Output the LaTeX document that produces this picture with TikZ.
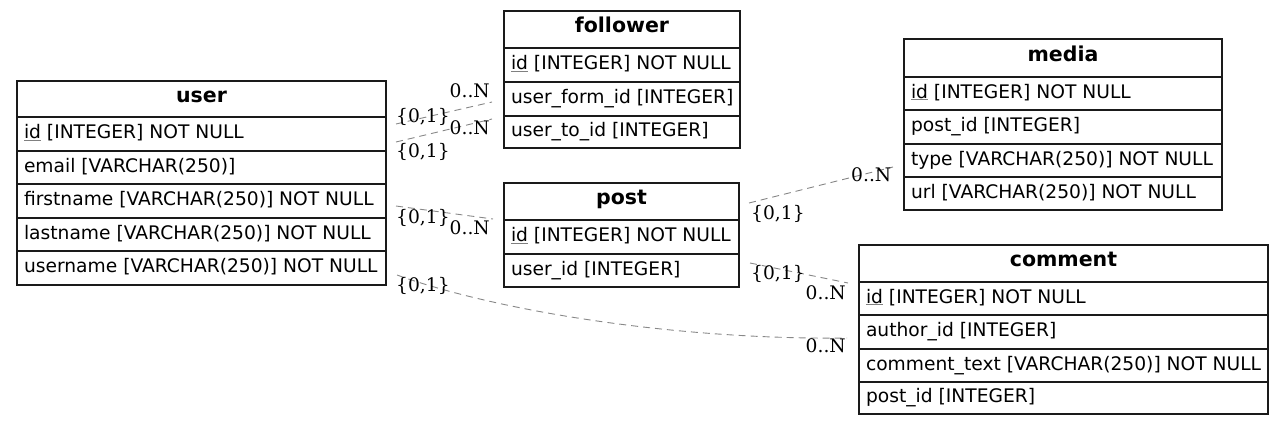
\documentclass[tikz,border=0pt]{standalone}
\usepackage{fontspec}
\setmainfont{DejaVu Sans}
\newfontfamily\lblfont{DejaVu Serif}
\usetikzlibrary{calc}
\newcommand\tfont{\fontsize{18.67pt}{22pt}\selectfont}
\newcommand\hfont{\fontsize{20.5pt}{24pt}\selectfont\bfseries}
\newcommand\rowstrut{\rule[-8pt]{0pt}{25pt}}
\newcommand\hdrstrut{\rule[-9.6pt]{0pt}{26pt}}
\newcommand\pkey[1]{{\color{gray}\underline{\color{black}#1}}}
\definecolor{edgegray}{HTML}{888888}
\definecolor{boxline}{HTML}{1A1A1A}
\tikzset{
  tbl/.style={draw=boxline, line width=1.3pt, inner xsep=7pt, inner ysep=0pt, outer sep=0pt, anchor=north west, font=\tfont},
  rowbox/.style={tbl, minimum height=33pt},
  hdrbox/.style={tbl, minimum height=37pt, font=\hfont},
  edge/.style={draw=edgegray, line width=0.9pt, dash pattern=on 7pt off 5pt},
  card/.style={font=\lblfont\tfont, inner sep=0pt, text=black}
}
\newcommand\rtxt[2]{\makebox[#1][l]{\rowstrut#2}}
\newcommand\htxt[2]{\makebox[#1][c]{\hdrstrut#2}}
\begin{document}
\begin{tikzpicture}[x=1pt,y=-1pt]
\useasboundingbox (0,0) rectangle (1284,426);
% user
\node[hdrbox, minimum height=36pt] (user-h) at (17,81) {\htxt{355pt}{user}};
\node[rowbox, minimum height=34pt] (user-id) at (17,117) {\rtxt{355pt}{\pkey{id} [INTEGER] NOT NULL}};
\node[rowbox] (user-email) at (17,151) {\rtxt{355pt}{email [VARCHAR(250)]}};
\node[rowbox, minimum height=34pt] (user-first) at (17,184) {\rtxt{355pt}{firstname [VARCHAR(250)] NOT NULL}};
\node[rowbox] (user-last) at (17,218) {\rtxt{355pt}{lastname [VARCHAR(250)] NOT NULL}};
\node[rowbox, minimum height=34pt] (user-uname) at (17,251) {\rtxt{355pt}{username [VARCHAR(250)] NOT NULL}};
% follower
\node[hdrbox] (fol-h) at (504,11) {\htxt{222pt}{follower}};
\node[rowbox, minimum height=34pt] (fol-id) at (504,48) {\rtxt{222pt}{\pkey{id} [INTEGER] NOT NULL}};
\node[rowbox, minimum height=34pt] (fol-from) at (504,82) {\rtxt{222pt}{user\_form\_id [INTEGER]}};
\node[rowbox, minimum height=32pt] (fol-to) at (504,116) {\rtxt{222pt}{user\_to\_id [INTEGER]}};
% post
\node[hdrbox] (post-h) at (504,183) {\htxt{221pt}{post}};
\node[rowbox, minimum height=34pt] (post-id) at (504,220) {\rtxt{221pt}{\pkey{id} [INTEGER] NOT NULL}};
\node[rowbox] (post-uid) at (504,254) {\rtxt{221pt}{user\_id [INTEGER]}};
% media
\node[hdrbox, minimum height=38pt] (media-h) at (904,39) {\htxt{304pt}{media}};
\node[rowbox] (media-id) at (904,77) {\rtxt{304pt}{\pkey{id} [INTEGER] NOT NULL}};
\node[rowbox, minimum height=34pt] (media-pid) at (904,110) {\rtxt{304pt}{post\_id [INTEGER]}};
\node[rowbox] (media-type) at (904,144) {\rtxt{304pt}{type [VARCHAR(250)] NOT NULL}};
\node[rowbox] (media-url) at (904,177) {\rtxt{304pt}{url [VARCHAR(250)] NOT NULL}};
% comment
\node[hdrbox] (com-h) at (859,245) {\htxt{395pt}{comment}};
\node[rowbox] (com-id) at (859,282) {\rtxt{395pt}{\pkey{id} [INTEGER] NOT NULL}};
\node[rowbox, minimum height=34pt] (com-author) at (859,315) {\rtxt{395pt}{author\_id [INTEGER]}};
\node[rowbox] (com-text) at (859,349) {\rtxt{395pt}{comment\_text [VARCHAR(250)] NOT NULL}};
\node[rowbox, minimum height=32pt] (com-pid) at (859,382) {\rtxt{395pt}{post\_id [INTEGER]}};
% connectors
\draw[edge] ($(user-id.east)+(10,-10)$) -- ($(fol-from.west)+(-12,3)$);
\draw[edge] ($(user-id.east)+(10,8)$) -- ($(fol-to.west)+(-12,-13)$);
\draw[edge] ($(user-first.east)+(10,5)$) -- ($(post-id.west)+(-11,-18)$);
\draw[edge] ($(user-uname.east)+(11,7)$) .. controls (500,312) and (680,340) .. ($(com-author.west)+(-12,6)$);
\draw[edge] ($(post-h.east)+(10,1.5)$) -- ($(media-type.west)+(-11,6.5)$);
\draw[edge] ($(post-uid.east)+(11,-7.5)$) -- ($(com-id.west)+(-11,-15.5)$);
% cardinalities
\node[card, anchor=base east] (c1n) at (490,97) {0..N};
\node[card, anchor=base west] (c1o) at (396,122) {\{0,1\}};
\node[card, anchor=base east] (c2n) at (490,134) {0..N};
\node[card, anchor=base west] (c2o) at (396,157) {\{0,1\}};
\node[card, anchor=base west] (c3o) at (396,223) {\{0,1\}};
\node[card, anchor=base east] (c3n) at (490,234) {0..N};
\node[card, anchor=base west] (c4o) at (396,291) {\{0,1\}};
\node[card, anchor=base east] (c4n) at (846,352) {0..N};
\node[card, anchor=base east] (c5n) at (891.5,181.5) {0..N};
\node[card, anchor=base west] (c5o) at (751,219) {\{0,1\}};
\node[card, anchor=base west] (c6o) at (751,279) {\{0,1\}};
\node[card, anchor=base east] (c6n) at (846,299) {0..N};
\end{tikzpicture}
\end{document}
